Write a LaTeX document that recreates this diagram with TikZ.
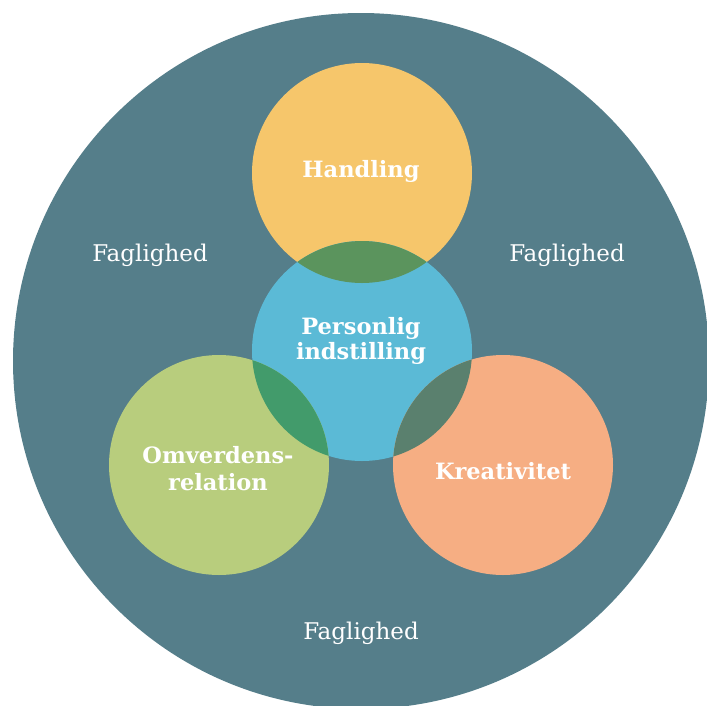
\documentclass[tikz,border=0pt]{standalone}
\usepackage{fontspec}
\setmainfont{DejaVu Serif}
\begin{document}
\begin{tikzpicture}[x=1pt,y=-1pt,
  ring/.style={circle,inner sep=0pt,minimum size=220pt},
  lab/.style={text=white,font=\fontsize{22.5}{24.3}\selectfont\bfseries,align=center,inner sep=0pt},
  fag/.style={text=white,font=\fontsize{23}{26}\selectfont,inner sep=0pt}]
\definecolor{bg}{HTML}{557E8A}
\definecolor{cH}{HTML}{F6C66B}
\definecolor{cP}{HTML}{5BBAD6}
\definecolor{cO}{HTML}{B8CD7D}
\definecolor{cK}{HTML}{F6AE83}
\definecolor{oHP}{HTML}{5B945D}
\definecolor{oOP}{HTML}{429B6B}
\definecolor{oKP}{HTML}{5A806E}
\useasboundingbox (0,0) rectangle (707,705);
\begin{scope}
  \clip (0,0) rectangle (707,705);
  \fill[bg] (361,361) circle[radius=348];
\end{scope}
\node[ring,fill=cH] (H) at (362,173) {};
\node[ring,fill=cP] (P) at (362,351) {};
\node[ring,fill=cO] (O) at (219,465) {};
\node[ring,fill=cK] (K) at (503,465) {};
\begin{scope}
  \clip (P.center) circle[radius=110];
  \fill[oHP] (H.center) circle[radius=110];
  \fill[oOP] (O.center) circle[radius=110];
  \fill[oKP] (K.center) circle[radius=110];
\end{scope}
\node[lab,anchor=base] (tH) at (361,177) {Handling};
\node[lab] (tP) at (361,341) {Personlig\\indstilling};
\node[lab,font=\fontsize{22.5}{27}\selectfont\bfseries] (tO) at (218,469) {Omverdens-\\relation};
\node[lab,anchor=base] (tK) at (503,479) {Kreativitet};
\node[fag,anchor=base] (f1) at (150,261) {Faglighed};
\node[fag,anchor=base] (f2) at (567,261) {Faglighed};
\node[fag,anchor=base] (f3) at (361,639) {Faglighed};
\end{tikzpicture}
\end{document}
